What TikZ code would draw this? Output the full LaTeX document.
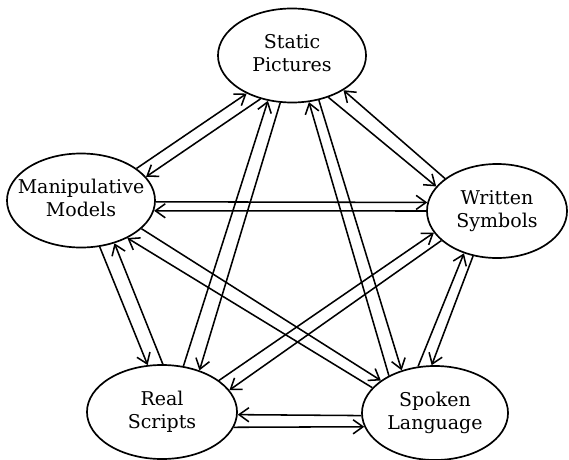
\documentclass[tikz,border=0pt]{standalone}
\usepackage{fontspec}
\setmainfont{DejaVu Serif}
\usetikzlibrary{arrows.meta}
\usetikzlibrary{shapes.geometric}

% two centred lines that do not widen the ellipse
\newcommand{\ovaltext}[2]{\makebox[0pt]{\begin{tabular}{@{}c@{}}#1\\#2\end{tabular}}}

\begin{document}
\begin{tikzpicture}[
		x=0.025cm,y=-0.025cm,
		>={Straight Barb[length=7pt,width=10pt]},
		oval/.style={draw,ellipse,line width=1.2pt,inner sep=0pt,
			minimum width=3.7cm,minimum height=2.35cm,
			font=\fontsize{13.5}{16.3}\selectfont},
		link/.style={->,line width=1.1pt}
	]
	\useasboundingbox (0,0) rectangle (569,459);

	\node [oval] (stat) at (292,55.5) {\ovaltext{Static}{Pictures}};
	\node [oval] (manip) at (81,200.5) {\ovaltext{Manipulative}{Models}};
	\node [oval,minimum width=3.5cm] (writ) at (497,211) {\ovaltext{Written}{Symbols}};
	\node [oval,minimum width=3.75cm] (real) at (162,412) {\ovaltext{Real}{Scripts}};
	\node [oval,minimum width=3.65cm] (spok) at (435,413) {\ovaltext{Spoken}{Language}};

	% every pair of forms is joined both ways
	\draw [link] (manip.30) -- (stat.220);
	\draw [link] (stat.234) -- (manip.20);
	\draw [link] (real.65) -- (stat.242);
	\draw [link] (stat.256) -- (real.48);
	\draw [link] (stat.311) -- (writ.158);
	\draw [link] (writ.148) -- (stat.326);
	\draw [link] (spok.141) -- (stat.290);
	\draw [link] (stat.301) -- (spok.128);
	\draw [link] (spok.110) -- (writ.232);
	\draw [link] (writ.242) -- (spok.94);
	\draw [link] (manip.359) -- (writ.173);
	\draw [link] (writ.180) -- (manip.352);
	\draw [link] (manip.292) -- (real.107);
	\draw [link] (real.89) -- (manip.308);
	\draw [link] (manip.335) -- (spok.149);
	\draw [link] (spok.158) -- (manip.321);
	\draw [link] (real.29) -- (writ.199);
	\draw [link] (writ.208) -- (real.18);
	\draw [link] (spok.182) -- (real.358);
	\draw [link] (real.348) -- (spok.191);

\end{tikzpicture}
\end{document}
